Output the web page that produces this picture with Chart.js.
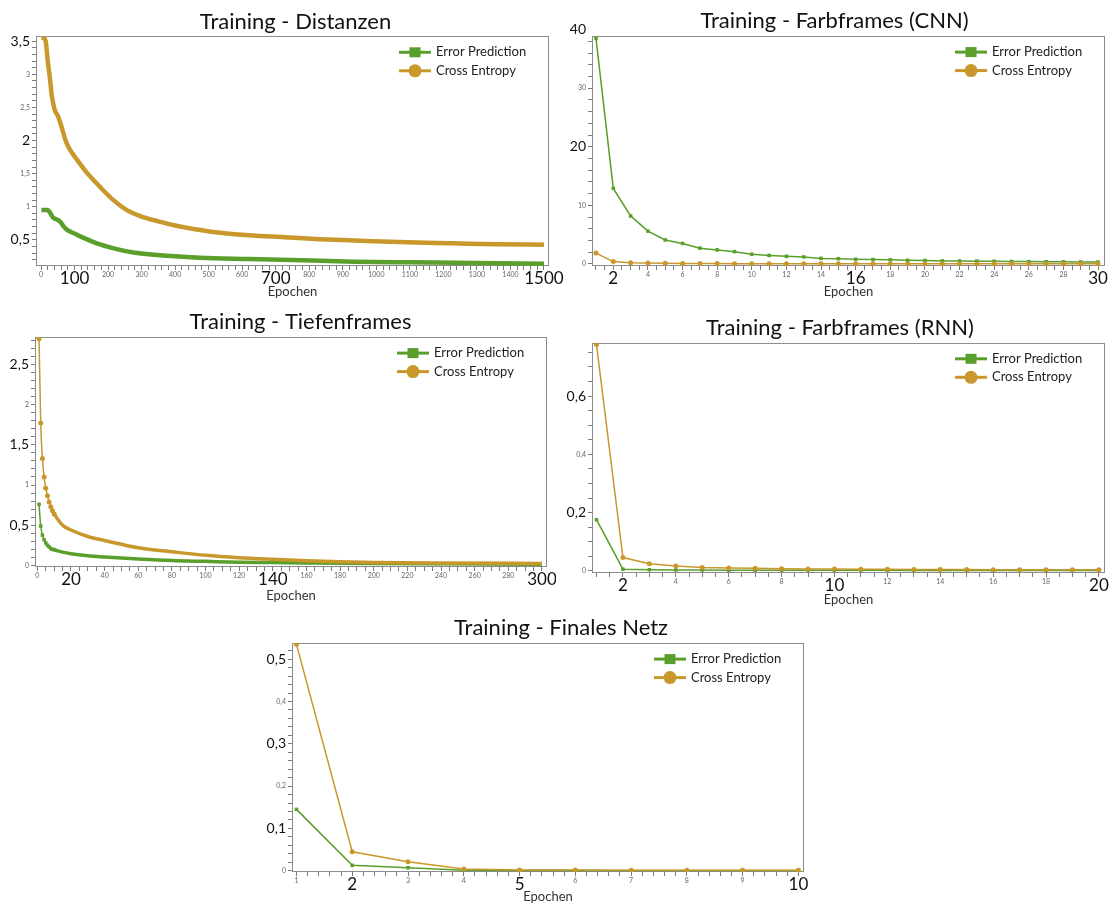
<!DOCTYPE html>
<html>
<head>
<meta charset="utf-8">
<script src="https://cdn.jsdelivr.net/npm/chart.js@4.4.0/dist/chart.umd.min.js"></script>
<style>
  body { margin: 0; background: #fff; width: 1112px; height: 904px; overflow: hidden; position: relative; }
  .box { position: absolute; }
</style>
</head>
<body>
<div class="box" style="left:0;top:0"><canvas id="c1" width="575" height="302"></canvas></div>
<div class="box" style="left:556px;top:0"><canvas id="c2" width="556" height="302"></canvas></div>
<div class="box" style="left:0;top:300px"><canvas id="c3" width="556" height="305"></canvas></div>
<div class="box" style="left:556px;top:300px"><canvas id="c4" width="556" height="309"></canvas></div>
<div class="box" style="left:250px;top:610px"><canvas id="c5" width="560" height="296"></canvas></div>
<script>
// Training - Distanzen
const distErrEpochs = [1, 20, 27, 35, 50, 58, 68, 78, 102, 127, 176, 226, 276, 375, 475, 620, 780, 935, 1100, 1300, 1500];
const distErr = [0.95, 0.95, 0.91, 0.84, 0.8, 0.77, 0.7, 0.65, 0.59, 0.53, 0.43, 0.36, 0.31, 0.26, 0.23, 0.21, 0.19, 0.17, 0.16, 0.15, 0.14];
const distCeEpochs = [1, 8, 14, 20, 27, 32, 40, 52, 60, 72, 82, 106, 136, 176, 216, 256, 296, 350, 407, 460, 513, 620, 724, 830, 935, 1040, 1147, 1250, 1360, 1500];
const distCe = [3.55, 3.55, 3.5, 3.2, 2.92, 2.68, 2.48, 2.35, 2.23, 2.02, 1.9, 1.72, 1.52, 1.3, 1.1, 0.95, 0.86, 0.78, 0.71, 0.66, 0.62, 0.57, 0.54, 0.51, 0.49, 0.47, 0.455, 0.445, 0.435, 0.425];
const distXLabels = [0, 100, 200, 300, 400, 500, 600, 700, 800, 900, 1000, 1100, 1200, 1300, 1400, 1500];
const distXBig = [100, 700, 1500];
const distYLabels = [0.5, 1, 1.5, 2, 2.5, 3, 3.5];
const distYBig = [0.5, 2, 3.5];

// Training - Farbframes (CNN)
const cnnEpochs = [1, 2, 3, 4, 5, 6, 7, 8, 9, 10, 11, 12, 13, 14, 15, 16, 17, 18, 19, 20, 21, 22, 23, 24, 25, 26, 27, 28, 29, 30];
const cnnErr = [38.5, 12.9, 8.2, 5.6, 4.1, 3.5, 2.7, 2.4, 2.1, 1.65, 1.45, 1.3, 1.2, 0.95, 0.9, 0.8, 0.75, 0.7, 0.62, 0.58, 0.52, 0.5, 0.48, 0.45, 0.43, 0.4, 0.38, 0.37, 0.35, 0.33];
const cnnCe = [1.85, 0.4, 0.22, 0.15, 0.1, 0.08, 0.07, 0.06, 0.055, 0.05, 0.045, 0.04, 0.038, 0.035, 0.033, 0.03, 0.028, 0.027, 0.025, 0.024, 0.023, 0.022, 0.021, 0.02, 0.019, 0.018, 0.018, 0.017, 0.016, 0.015];
const cnnXLabels = [2, 4, 6, 8, 10, 12, 14, 16, 18, 20, 22, 24, 26, 28, 30];
const cnnXBig = [2, 16, 30];
const cnnYLabels = [0, 10, 20, 30, 40];
const cnnYBig = [20, 40];

// Training - Tiefenframes
const tiefErrEpochs = [1, 2, 3, 4, 5, 6, 7, 8, 9, 10, 15, 20, 30, 40, 60, 80, 100, 120, 140, 160, 200, 300];
const tiefErr = [0.76, 0.49, 0.377, 0.32, 0.28, 0.25, 0.23, 0.21, 0.2, 0.195, 0.165, 0.145, 0.12, 0.105, 0.08, 0.06, 0.05, 0.04, 0.035, 0.03, 0.022, 0.015];
const tiefCeEpochs = [1, 2, 3, 4, 5, 6, 7, 8, 9, 10, 15, 20, 30, 40, 60, 80, 100, 120, 140, 160, 180, 200, 240, 300];
const tiefCe = [2.82, 1.77, 1.33, 1.1, 0.96, 0.865, 0.79, 0.73, 0.68, 0.64, 0.5, 0.44, 0.36, 0.31, 0.22, 0.17, 0.125, 0.095, 0.075, 0.058, 0.046, 0.037, 0.03, 0.025];
const tiefXLabels = [0, 20, 40, 60, 80, 100, 120, 140, 160, 180, 200, 220, 240, 260, 280, 300];
const tiefXBig = [20, 140, 300];
const tiefYLabels = [0, 0.5, 1, 1.5, 2, 2.5];
const tiefYBig = [0.5, 1.5, 2.5];

// Training - Farbframes (RNN)
const rnnEpochs = [1, 2, 3, 4, 5, 6, 7, 8, 9, 10, 11, 12, 13, 14, 15, 16, 17, 18, 19, 20];
const rnnErr = [0.176, 0.006, 0.004, 0.003, 0.003, 0.0028, 0.0026, 0.0025, 0.0024, 0.0023, 0.0022, 0.0021, 0.002, 0.002, 0.002, 0.0019, 0.0019, 0.0018, 0.0018, 0.0018];
const rnnCe = [0.777, 0.046, 0.025, 0.017, 0.012, 0.01, 0.009, 0.008, 0.007, 0.0065, 0.006, 0.0055, 0.005, 0.005, 0.0048, 0.0045, 0.0045, 0.0043, 0.0042, 0.004];
const rnnXLabels = [2, 4, 6, 8, 10, 12, 14, 16, 18, 20];
const rnnXBig = [2, 10, 20];
const rnnYLabels = [0, 0.2, 0.4, 0.6];
const rnnYBig = [0.2, 0.6];

// Training - Finales Netz
const finEpochs = [1, 2, 3, 4, 5, 6, 7, 8, 9, 10];
const finErr = [0.145, 0.0127, 0.007, 0.001, 0.0008, 0.0006, 0.0005, 0.0005, 0.0004, 0.0004];
const finCe = [0.535, 0.0447, 0.021, 0.004, 0.002, 0.0015, 0.0012, 0.001, 0.001, 0.001];
const finXLabels = [1, 2, 3, 4, 5, 6, 7, 8, 9, 10];
const finXBig = [2, 5, 10];
const finYLabels = [0, 0.1, 0.2, 0.3, 0.4, 0.5];
const finYBig = [0.1, 0.3, 0.5];

const green = '#5a9f2b';
const gold = '#c9982c';

Chart.defaults.font.family = 'Lato, "Open Sans", sans-serif';
Chart.defaults.color = '#333';

const r3 = v => Math.round(v * 1000) / 1000;
const fmt = v => String(r3(v)).replace('.', ',');
const pairs = (xs, ys) => xs.map((x, i) => ({x: x, y: ys[i]}));

// minor tick positions plus the labelled ones
function tickList(min, max, step, labels) {
  const out = [];
  for (let i = Math.ceil(min / step); i * step <= max + 1e-9; i++) out.push(r3(i * step));
  labels.forEach(v => { if (!out.includes(v)) out.push(v); });
  return out.sort((a, b) => a - b).map(v => ({value: v}));
}

// plot frame, legend inside the plot, title nudge
const frame = {
  id: 'frame',
  afterLayout(chart, args, opts) {
    const t = chart.titleBlock;
    if (t && opts.dx) { t.left += opts.dx; t.right += opts.dx; }
  },
  beforeDatasetsDraw(chart) {
    const {ctx, chartArea: a} = chart;
    ctx.save();
    ctx.strokeStyle = '#8c8c8c';
    ctx.lineWidth = 1;
    ctx.strokeRect(Math.round(a.left) + 0.5, Math.round(a.top) + 0.5, Math.round(a.width) - 1, Math.round(a.height) - 1);
    ctx.restore();
  },
  afterDatasetsDraw(chart) {
    const {ctx, chartArea: a} = chart;
    chart.data.datasets.forEach((ds, i) => {
      const y = a.top + 16 + i * 18.5;
      const x0 = a.right - 150, x1 = a.right - 118, xm = (x0 + x1) / 2;
      ctx.save();
      ctx.strokeStyle = ds.borderColor;
      ctx.fillStyle = ds.borderColor;
      ctx.lineWidth = 3;
      ctx.beginPath(); ctx.moveTo(x0, y); ctx.lineTo(x1, y); ctx.stroke();
      if (ds.pointStyle === 'rect') ctx.fillRect(xm - 5.5, y - 5, 11, 10);
      else { ctx.beginPath(); ctx.arc(xm, y, 6.5, 0, Math.PI * 2); ctx.fill(); }
      ctx.fillStyle = '#222';
      ctx.font = '13px Lato, "Open Sans", sans-serif';
      ctx.textBaseline = 'middle';
      ctx.fillText(ds.label, a.right - 113, y);
      ctx.restore();
    });
  }
};

function axis(a, horizontal) {
  const isBig = c => c.tick && a.big.includes(r3(c.tick.value));
  return {
    type: 'linear', min: a.min, max: a.max,
    border: {display: false},
    grid: {
      drawOnChartArea: false, tickLength: 4, tickWidth: 1,
      tickColor: c => (c.tick && c.tick.value > a.max) ? 'rgba(0,0,0,0)' : '#7a7a7a'
    },
    ticks: {
      autoSkip: false, maxRotation: 0, padding: horizontal ? 1 : 2,
      callback: v => a.labels.includes(r3(v)) ? fmt(v) : '',
      font: c => isBig(c) ? {size: a.bigSize, lineHeight: 0.85} : {size: 7, lineHeight: 1.2},
      color: c => isBig(c) ? '#111' : '#666'
    },
    title: horizontal
      ? {display: true, text: 'Epochen', color: '#333', font: {size: 13}, padding: {top: 0, bottom: a.titlePad}}
      : {display: false},
    afterBuildTicks: s => { s.ticks = tickList(a.min, a.max, a.step, a.labels); },
    afterFit: s => {
      if (horizontal) { s.height = a.size; s.paddingLeft = 0; s.paddingRight = 0; }
      else { s.width = a.size; s.paddingTop = 0; s.paddingBottom = 0; }
    }
  };
}

function lossChart(id, o) {
  return new Chart(document.getElementById(id), {
    type: 'line',
    data: {
      datasets: [
        Object.assign({label: 'Error Prediction', data: o.err, borderColor: green, backgroundColor: green, pointStyle: 'rect', order: 1}, o.style),
        Object.assign({label: 'Cross Entropy', data: o.ce, borderColor: gold, backgroundColor: gold, pointStyle: 'circle', order: 0}, o.style)
      ]
    },
    options: {
      responsive: false,
      animation: false,
      layout: {padding: {left: 0, top: 0, bottom: 0, right: o.padRight}},
      plugins: {
        legend: {display: false},
        tooltip: {enabled: false},
        title: {display: true, text: o.title, color: '#111', font: {size: 22, weight: 'normal', lineHeight: 1.15}, padding: {top: o.titleTop, bottom: o.titleBottom}},
        frame: {dx: o.titleShift}
      },
      scales: {x: axis(o.x, true), y: axis(o.y, false)}
    },
    plugins: [frame]
  });
}

const thin = {borderWidth: 1.5, pointRadius: 2.5, pointBorderWidth: 0};

lossChart('c1', {
  title: 'Training - Distanzen', titleTop: 9, titleBottom: 2, titleShift: 21, padRight: 26,
  err: pairs(distErrEpochs, distErr), ce: pairs(distCeEpochs, distCe),
  style: {borderWidth: 4.5, pointRadius: 0, cubicInterpolationMode: 'monotone'},
  x: {min: -15, max: 1515, step: 20, labels: distXLabels, big: distXBig, bigSize: 17, size: 36, titlePad: 2},
  y: {min: 0.105, max: 3.575, step: 0.1, labels: distYLabels, big: distYBig, bigSize: 14, size: 36}
});

lossChart('c2', {
  title: 'Training - Farbframes (CNN)', titleTop: 8, titleBottom: 2.8, titleShift: 4, padRight: 7,
  err: pairs(cnnEpochs, cnnErr), ce: pairs(cnnEpochs, cnnCe),
  style: thin,
  x: {min: 0.77, max: 30.4, step: 0.5, labels: cnnXLabels, big: cnnXBig, bigSize: 17, size: 36, titlePad: 2},
  y: {min: -0.35, max: 38.9, step: 2, labels: cnnYLabels, big: cnnYBig, bigSize: 14, size: 36}
});

lossChart('c3', {
  title: 'Training - Tiefenframes', titleTop: 9, titleBottom: 2.8, titleShift: 27, padRight: 9,
  err: pairs(tiefErrEpochs, tiefErr), ce: pairs(tiefCeEpochs, tiefCe),
  style: {
    borderWidth: 3.5, cubicInterpolationMode: 'monotone', pointBorderWidth: 0,
    pointRadius: c => (c.raw && c.raw.x <= 12) ? 2.5 : 0,
    segment: {borderWidth: c => c.p0.parsed.x < 10 ? 1.5 : 3.5}
  },
  x: {min: -1.4, max: 303, step: 5, labels: tiefXLabels, big: tiefXBig, bigSize: 17, size: 38, titlePad: 1},
  y: {min: -0.02, max: 2.84, step: 0.1, labels: tiefYLabels, big: tiefYBig, bigSize: 14, size: 35}
});

lossChart('c4', {
  title: 'Training - Farbframes (RNN)', titleTop: 15, titleBottom: 2.5, titleShift: 9.5, padRight: 7,
  err: pairs(rnnEpochs, rnnErr), ce: pairs(rnnEpochs, rnnCe),
  style: thin,
  x: {min: 0.83, max: 20.23, step: 0.5, labels: rnnXLabels, big: rnnXBig, bigSize: 17, size: 36, titlePad: 1},
  y: {min: -0.007, max: 0.783, step: 0.05, labels: rnnYLabels, big: rnnYBig, bigSize: 14, size: 36}
});

lossChart('c5', {
  title: 'Training - Finales Netz', titleTop: 5, titleBottom: 2.8, titleShift: 34, padRight: 6,
  err: pairs(finEpochs, finErr), ce: pairs(finEpochs, finCe),
  style: thin,
  x: {min: 0.92, max: 10.1, step: 0.2, labels: finXLabels, big: finXBig, bigSize: 17, size: 34, titlePad: 1},
  y: {min: -0.003, max: 0.538, step: 0.02, labels: finYLabels, big: finYBig, bigSize: 14, size: 42}
});
</script>
</body>
</html>
